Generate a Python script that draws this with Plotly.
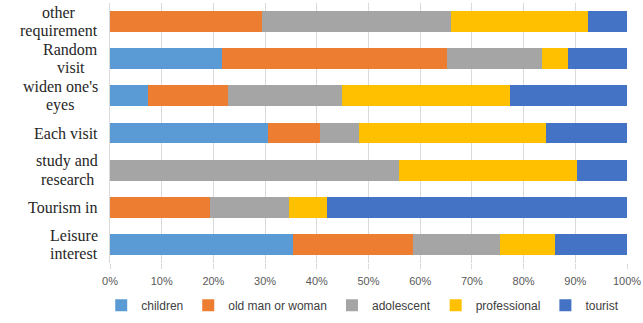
import plotly.graph_objects as go

categories = ["other<br>requirement", "Random<br>visit", "widen one's<br>eyes", "Each visit",
              "study and<br>research", "Tourism in", "Leisure<br>interest"]
series_names = ["children", "old man or woman", "adolescent", "professional", "tourist"]
children = [0.0, 21.7, 7.4, 30.5, 0.0, 0.0, 35.4]
old_man_or_woman = [29.4, 43.5, 15.4, 10.1, 0.0, 19.3, 23.2]
adolescent = [36.5, 18.4, 22.1, 7.5, 55.9, 15.4, 16.9]
professional = [26.5, 5.0, 32.5, 36.3, 34.4, 7.3, 10.5]
tourist = [7.6, 11.4, 22.6, 15.6, 9.7, 58.0, 14.0]
colors = ["#5B9BD5", "#ED7D31", "#A5A5A5", "#FFC000", "#4472C4"]
tick_vals = [0, 10, 20, 30, 40, 50, 60, 70, 80, 90, 100]
tick_text = [f"{v}%" for v in tick_vals]

series = [children, old_man_or_woman, adolescent, professional, tourist]

# Times / Liberation Serif advance widths (1/1000 em) for label layout
CHAR_W = {" ": 250, "'": 180, "a": 444, "c": 444, "d": 500, "e": 444, "h": 500, "i": 278,
          "m": 778, "n": 500, "o": 500, "q": 500, "r": 333, "s": 389, "t": 278, "u": 500,
          "v": 500, "w": 722, "y": 500, "E": 611, "L": 611, "R": 667, "T": 611}
LABEL_SIZE = 16
LABEL_GAP = 12
LINE_STEP = 18


def text_width(s, size):
    return sum(CHAR_W.get(ch, 500) for ch in s) / 1000.0 * size


fig = go.Figure()
for name, vals, col in zip(series_names, series, colors):
    fig.add_trace(go.Bar(y=categories, x=vals, name=name, orientation="h",
                         marker=dict(color=col, line=dict(width=0))))

# category labels: block right-aligned to the axis, lines centred in the block, tight spacing
for cat in categories:
    lines = cat.split("<br>")
    block_w = max(text_width(l, LABEL_SIZE) for l in lines)
    n = len(lines)
    for i, line in enumerate(lines):
        fig.add_annotation(x=0, xref="paper", y=cat, yref="y", text=line,
                           xanchor="center", yanchor="middle",
                           xshift=-LABEL_GAP - block_w / 2,
                           yshift=((n - 1) / 2 - i) * LINE_STEP,
                           showarrow=False, borderpad=0, borderwidth=0,
                           font=dict(family="Liberation Serif", size=LABEL_SIZE, color="#262626"))

fig.update_layout(
    barmode="stack",
    bargap=0.44,
    width=643, height=323,
    margin=dict(l=110, r=16, t=3, b=58),
    plot_bgcolor="white", paper_bgcolor="white",
    legend=dict(orientation="h", x=-0.017, xanchor="left",
                y=-0.218, yanchor="bottom", traceorder="normal",
                font=dict(family="Liberation Sans", size=12, color="#404040"),
                itemwidth=30, tracegroupgap=0),
    showlegend=True,
)
fig.update_xaxes(range=[0, 100], tickvals=tick_vals, ticktext=tick_text,
                 showgrid=True, gridcolor="#D9D9D9", gridwidth=1,
                 ticks="outside", ticklen=5, tickcolor="#D9D9D9",
                 tickfont=dict(family="Liberation Sans", size=11, color="#595959"),
                 ticklabelstandoff=3,
                 zeroline=False, showline=False)
fig.update_yaxes(categoryorder="array", categoryarray=categories, autorange="reversed",
                 showticklabels=False,
                 showgrid=False, showline=True, linecolor="#D9D9D9", ticks="")

fig.write_html("out.html")
